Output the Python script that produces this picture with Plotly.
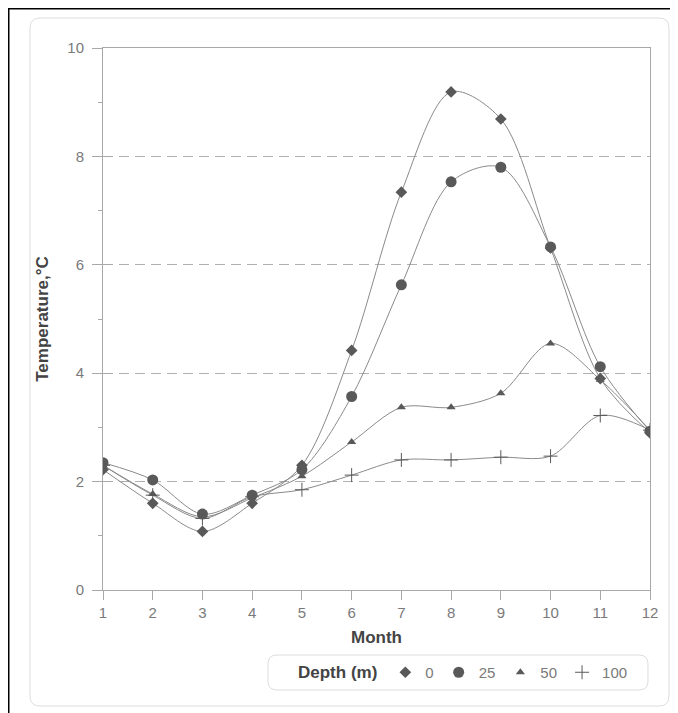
import plotly.graph_objects as go

months = [1, 2, 3, 4, 5, 6, 7, 8, 9, 10, 11, 12]
depth_labels = ["0", "25", "50", "100"]
temp_0 = [2.22, 1.60, 1.08, 1.60, 2.30, 4.42, 7.34, 9.19, 8.69, 6.31, 3.90, 2.90]
temp_25 = [2.35, 2.03, 1.40, 1.75, 2.22, 3.57, 5.63, 7.53, 7.80, 6.33, 4.12, 2.93]
temp_50 = [2.30, 1.77, 1.35, 1.70, 2.10, 2.73, 3.37, 3.37, 3.63, 4.55, 3.88, 2.95]
temp_100 = [2.30, 1.75, 1.32, 1.72, 1.85, 2.12, 2.40, 2.40, 2.45, 2.47, 3.22, 2.95]
series = [temp_0, temp_25, temp_50, temp_100]
symbols = ["diamond", "circle", "triangle-up", "cross-thin"]
sizes = [9, 11, 8, 10]

# figure sits at an 8px page offset, so work in figure pixels
W, H = 670, 705
L, R, T, B = 95, 642, 40, 582
pw, ph = R - L, B - T


def px(x):
    return (x - L) / pw


def py(y):
    return (B - y) / ph


def rrect(x0, y0, x1, y1, r):
    pts = [
        ("M", [(x0 + r, y0)]),
        ("L", [(x1 - r, y0)]),
        ("Q", [(x1, y0), (x1, y0 + r)]),
        ("L", [(x1, y1 - r)]),
        ("Q", [(x1, y1), (x1 - r, y1)]),
        ("L", [(x0 + r, y1)]),
        ("Q", [(x0, y1), (x0, y1 - r)]),
        ("L", [(x0, y0 + r)]),
        ("Q", [(x0, y0), (x0 + r, y0)]),
    ]
    s = ""
    for cmd, ps in pts:
        s += cmd + " " + " ".join(f"{px(a):.5f},{py(b):.5f}" for a, b in ps) + " "
    return s + "Z"


marker_col = "#595959"
line_col = "#8a8a8a"
axis_col = "#a8a8a8"

fig = go.Figure()
for vals in series:
    fig.add_trace(go.Scatter(
        x=months, y=vals, mode="lines",
        line=dict(color=line_col, width=1, shape="spline", smoothing=0.9),
        showlegend=False, hoverinfo="skip"))
for vals, sym, sz, lab in zip(series, symbols, sizes, depth_labels):
    mk = dict(symbol=sym, size=sz, color=marker_col)
    if sym == "cross-thin":
        mk["line"] = dict(color=marker_col, width=1)
    fig.add_trace(go.Scatter(
        x=months, y=vals, mode="markers", name=lab, marker=mk))

# dummy trace so the overlay axis (inner half of major y ticks) is drawn
fig.add_trace(go.Scatter(x=[1], y=[0], yaxis="y2", mode="markers",
                         marker=dict(opacity=0), showlegend=False, hoverinfo="skip"))

fam = "Liberation Sans, Arial, sans-serif"
tick_font = dict(family=fam, size=15, color="#7a7a7a")
title_font = dict(family=fam, size=17, color="#444444")

shapes = [
    dict(type="path", xref="paper", yref="paper", path=rrect(22, 10, 661, 698, 10),
         line=dict(color="#dddddd", width=1), fillcolor="rgba(0,0,0,0)", layer="below"),
    dict(type="path", xref="paper", yref="paper", path=rrect(260, 647, 640, 682, 9),
         line=dict(color="#dddddd", width=1), fillcolor="rgba(0,0,0,0)", layer="below"),
    dict(type="line", xref="paper", yref="paper", x0=px(0.5), x1=px(0.5), y0=py(0), y1=py(H),
         line=dict(color="black", width=2)),
    dict(type="line", xref="paper", yref="paper", x0=px(0), x1=px(W), y0=py(0.5), y1=py(0.5),
         line=dict(color="black", width=2)),
]

fig.update_layout(
    width=W, height=H,
    margin=dict(l=L, r=W - R, t=T, b=H - B),
    paper_bgcolor="white", plot_bgcolor="white",
    showlegend=True,
    legend=dict(
        orientation="h", x=px(288), y=py(648), xanchor="left", yanchor="top",
        title=dict(text="<b>Depth (m)</b>", font=title_font, side="left"),
        font=dict(family=fam, size=15, color="#7a7a7a"),
        bgcolor="rgba(0,0,0,0)", itemsizing="trace", itemwidth=30,
    ),
    xaxis=dict(
        range=[1, 12], tickmode="linear", tick0=1, dtick=1,
        ticks="outside", ticklen=9, tickcolor=axis_col,
        showline=True, linecolor=axis_col, mirror=True,
        showgrid=False, zeroline=False, tickfont=tick_font,
        title=dict(text="<b>Month</b>", font=title_font, standoff=11),
    ),
    yaxis=dict(
        range=[0, 10], tickmode="linear", tick0=0, dtick=2,
        ticks="outside", ticklen=10, tickcolor=axis_col, ticklabelstandoff=5,
        minor=dict(dtick=1, ticks="outside", ticklen=4, tickcolor=axis_col, showgrid=False),
        showline=True, linecolor=axis_col, mirror=True,
        showgrid=True, gridcolor="#b0b0b0", griddash="10px,6px", gridwidth=1,
        zeroline=False, tickfont=tick_font,
        title=dict(text="<b>Temperature,°C</b>", font=title_font, standoff=14),
    ),
    yaxis2=dict(
        range=[0, 10], overlaying="y", side="left", tickmode="linear", tick0=0, dtick=2,
        ticks="inside", ticklen=10, tickcolor=axis_col, showticklabels=False,
        showgrid=False, zeroline=False, showline=False,
    ),
    shapes=shapes,
)

fig.write_html("out.html")
